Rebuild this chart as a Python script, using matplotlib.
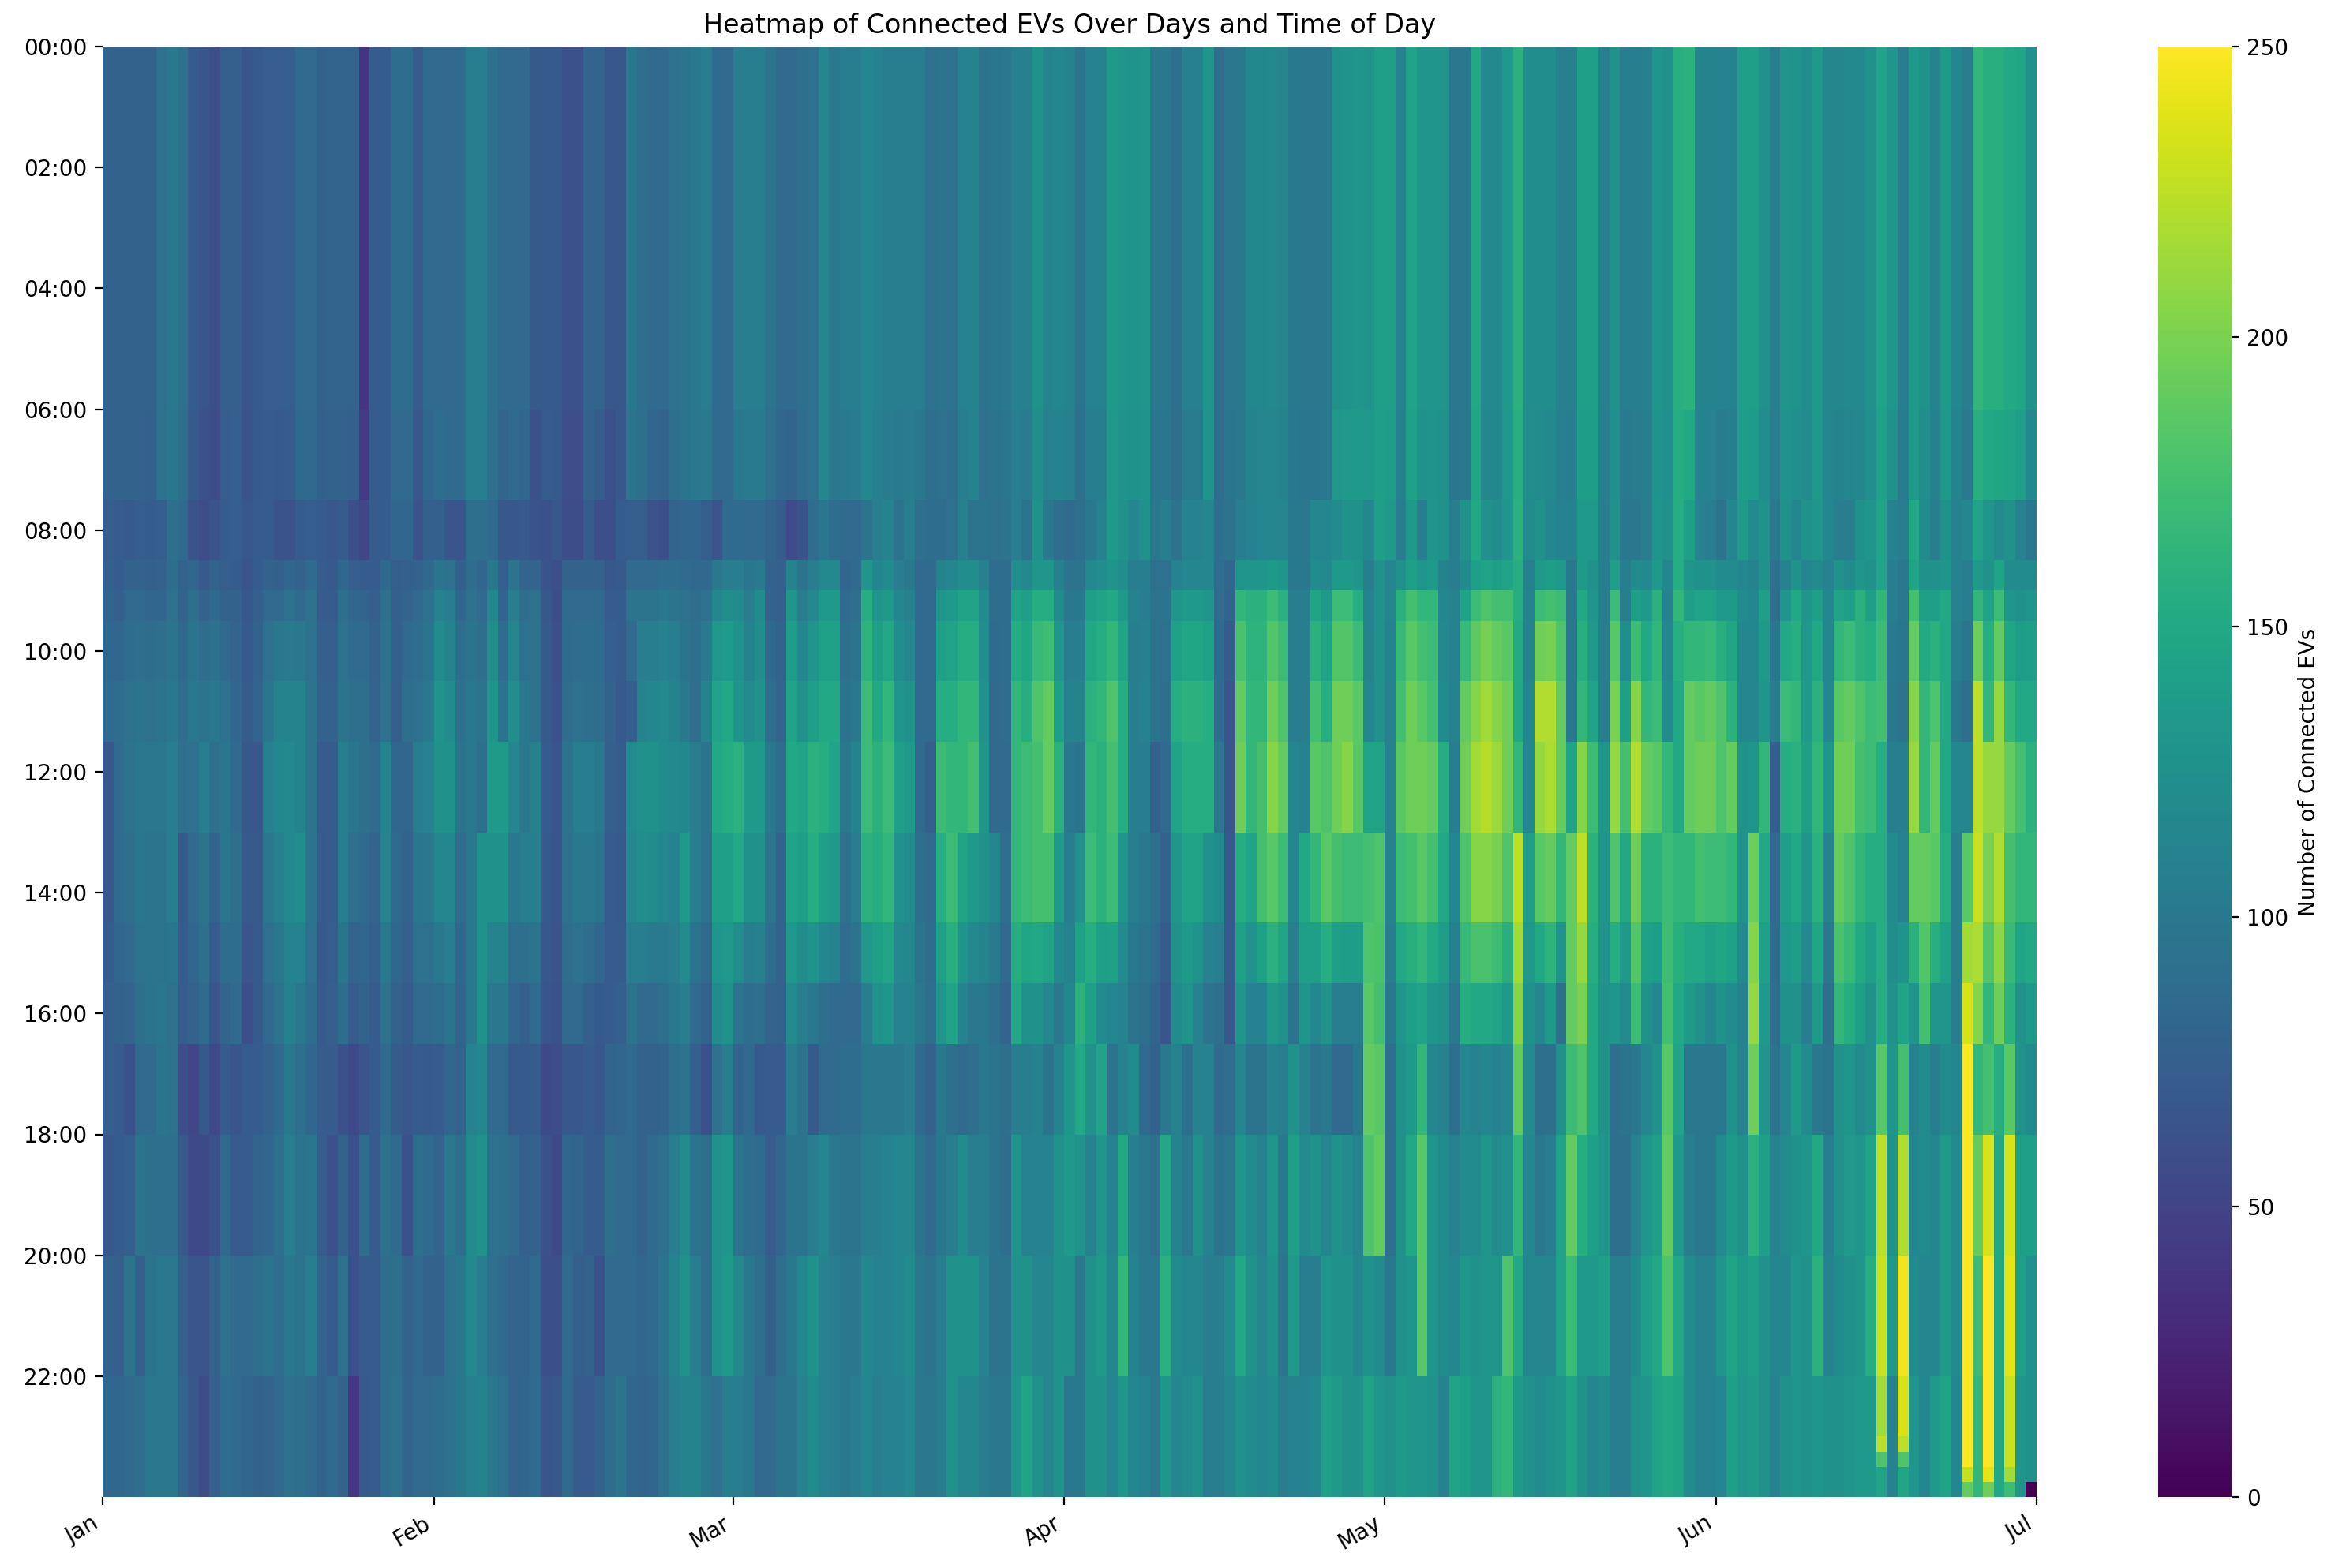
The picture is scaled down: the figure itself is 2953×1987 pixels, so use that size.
import numpy as np
import matplotlib
matplotlib.use("Agg")
import matplotlib.pyplot as plt

# Connected EVs per day (Jan 1 - Jun 30), one list per block of the day
ev_0000_0600 = [
    78,78,78,78,78,92,100,92,72,65,
    60,75,75,65,70,73,73,75,85,85,
    78,80,80,78,38,72,72,88,88,72,
    85,85,85,85,105,105,92,85,85,85,
    70,70,70,62,62,80,80,68,68,100,
    90,85,85,92,95,100,105,85,85,105,
    105,105,95,85,85,90,92,115,100,105,
    105,115,110,105,105,105,105,92,95,92,
    110,112,95,98,100,108,108,125,112,115,
    112,95,110,110,135,130,128,130,100,100,
    90,108,108,130,90,100,100,115,117,118,
    116,100,100,100,100,125,128,130,128,140,
    140,110,145,130,130,130,100,100,150,118,
    118,135,160,122,122,122,108,108,140,140,
    108,125,105,106,108,130,125,158,160,112,
    112,110,110,140,140,125,105,130,128,122,
    135,116,116,118,118,125,145,130,105,135,
    125,110,135,115,105,165,158,158,150,148,125]
ev_0600_0730 = [
    78,78,78,78,76,92,98,90,70,62,
    58,73,75,64,70,72,70,72,84,84,
    76,78,78,76,42,72,72,85,85,68,
    82,88,85,85,105,105,90,80,85,82,
    62,72,70,60,60,78,72,62,68,95,
    90,82,80,90,95,100,102,85,85,100,
    102,102,90,82,80,88,92,115,100,102,
    104,115,108,104,102,104,100,90,92,90,
    106,110,92,95,98,105,104,122,108,112,
    108,92,106,106,132,128,126,128,98,98,
    90,104,104,128,90,98,100,112,114,114,
    112,100,98,98,100,132,135,135,132,140,
    138,108,142,126,128,126,98,100,148,116,
    116,132,158,122,120,118,108,106,138,138,
    106,124,102,104,106,128,124,155,150,110,
    110,104,106,138,136,122,104,128,124,120,
    132,114,112,114,116,124,142,125,104,135,
    122,108,132,112,102,158,150,148,145,140,118]
ev_0730_0830 = [
    74,72,70,74,72,74,90,85,64,58,
    64,72,74,68,72,72,64,64,72,74,
    72,68,72,60,52,72,72,82,82,64,
    76,76,66,66,90,90,85,68,68,70,
    64,62,68,58,58,72,60,60,72,74,
    74,64,60,80,82,82,74,66,85,85,
    85,85,80,72,56,64,88,98,88,85,
    85,95,105,110,95,105,90,88,88,92,
    108,95,95,92,95,105,95,125,100,90,
    85,90,100,110,135,125,115,125,100,105,
    95,110,110,115,90,95,105,110,115,115,
    115,100,100,115,115,120,125,125,115,140,
    135,105,135,105,130,125,105,125,150,125,
    120,130,160,120,125,115,110,110,135,135,
    105,125,100,100,105,130,125,155,140,110,
    105,95,115,135,120,125,100,125,115,125,
    130,115,105,105,125,130,145,110,105,150,
    120,105,125,110,115,145,130,120,125,110,100]
ev_0830_0900 = [
    76,72,78,78,76,78,88,78,82,70,
    78,74,72,66,72,78,76,82,78,85,
    72,70,82,74,72,72,84,74,76,78,
    84,95,92,76,88,82,100,76,95,80,
    80,64,60,78,78,78,78,68,70,85,
    85,85,88,88,86,84,84,100,105,105,
    98,102,78,75,112,95,105,118,118,82,
    85,130,115,120,105,100,85,85,112,115,
    122,122,108,88,88,122,118,130,130,108,
    95,95,118,122,128,122,105,105,92,92,
    110,115,115,115,88,82,130,130,130,135,
    130,100,100,120,118,135,135,130,105,125,
    115,125,140,130,135,112,105,120,140,145,
    140,145,155,108,135,138,135,100,135,125,
    105,140,105,120,118,135,115,155,130,125,
    125,120,120,115,112,125,92,112,125,115,
    120,110,125,120,130,125,145,105,100,145,
    125,125,130,110,105,135,125,145,120,120,120]
ev_0900_0930 = [
    80,75,85,85,82,82,92,80,90,78,
    85,78,78,68,75,85,85,92,85,92,
    72,72,90,82,80,75,90,75,80,85,
    92,110,105,82,92,85,115,80,105,88,
    92,68,58,85,85,85,85,72,72,95,
    95,95,100,95,92,88,92,115,122,120,
    105,120,78,75,130,105,118,135,135,85,
    90,155,130,135,115,108,85,85,130,135,
    145,145,120,88,88,145,140,155,155,120,
    100,100,140,145,150,135,110,105,95,95,
    130,135,135,130,88,80,165,160,160,170,
    160,105,105,145,135,170,170,155,110,125,
    115,160,175,165,165,115,110,145,170,180,
    175,175,155,110,170,175,170,100,150,130,
    105,170,105,140,135,160,110,165,140,145,
    145,135,135,120,115,140,90,130,150,130,
    140,115,145,140,160,140,165,105,100,175,
    140,140,150,110,105,165,145,170,130,125,130]
ev_0930_1030 = [
    82,82,88,90,88,90,96,84,95,88,
    92,85,80,70,78,92,100,102,100,94,
    75,75,92,86,85,78,92,75,85,88,
    96,120,112,88,96,90,122,88,114,94,
    92,70,60,86,88,88,86,75,72,85,
    105,105,110,105,96,90,102,132,136,125,
    112,122,84,78,138,115,130,142,142,90,
    95,162,140,150,122,115,85,85,142,145,
    155,155,122,86,88,155,148,168,172,130,
    105,106,150,155,165,145,105,108,95,92,
    142,148,148,142,86,72,178,162,162,182,
    170,105,105,160,145,182,182,170,112,125,
    112,168,185,175,170,118,110,168,188,198,
    190,185,152,112,195,198,180,100,158,135,
    105,185,122,172,150,165,115,158,165,165,
    168,158,148,115,115,135,98,150,158,132,
    150,115,165,170,160,155,170,102,98,190,
    152,160,150,105,98,195,155,190,148,138,140]
ev_1030_1130 = [
    85,88,92,95,92,95,100,88,100,95,
    100,92,82,72,80,98,112,112,112,95,
    78,78,95,90,90,80,92,75,90,92,
    100,128,120,92,100,95,130,95,122,100,
    92,70,62,88,92,90,88,78,70,75,
    112,115,118,112,100,90,112,145,150,130,
    120,125,88,80,145,125,140,150,150,95,
    100,170,150,165,130,125,85,85,155,155,
    165,165,125,85,88,165,155,180,190,140,
    110,112,160,165,180,155,105,110,95,90,
    155,160,160,155,85,65,190,165,165,195,
    180,105,105,175,155,195,195,185,115,125,
    110,175,195,185,175,120,110,190,205,215,
    205,195,150,115,220,220,190,100,165,145,
    105,200,140,205,165,170,120,150,190,185,
    190,180,160,115,115,130,105,170,165,135,
    160,115,185,190,180,170,175,100,95,205,
    165,180,150,100,90,225,165,210,165,150,150]
ev_1130_1300 = [
    68,85,95,100,100,100,105,90,92,105,
    92,98,85,68,68,108,115,118,112,95,
    72,72,105,98,90,85,112,82,82,105,
    110,125,125,95,100,90,135,135,115,100,
    108,72,65,95,105,105,100,75,72,120,
    125,125,120,118,115,105,95,150,155,160,
    135,135,100,88,150,145,160,155,145,100,
    110,170,160,170,140,135,85,75,170,165,
    165,175,130,85,85,165,170,175,190,160,
    100,95,165,160,175,155,105,105,78,85,
    145,155,155,155,100,65,195,165,175,205,
    190,115,110,185,180,195,205,185,145,145,
    110,185,195,195,190,155,105,195,215,222,
    212,195,165,115,210,218,190,145,205,170,
    130,210,175,220,190,185,165,150,190,195,
    195,180,190,125,130,165,75,155,160,140,
    165,130,195,195,175,170,155,105,105,210,
    165,190,150,115,115,225,210,210,190,175,160]
ev_1300_1430 = [
    68,85,90,98,95,95,105,70,85,95,
    80,98,90,70,70,100,108,118,122,95,
    70,72,105,90,85,80,110,85,78,98,
    100,115,115,85,100,125,125,125,100,105,
    105,70,65,92,100,100,95,72,70,115,
    122,120,115,110,135,105,92,140,140,150,
    125,125,95,78,145,140,155,140,135,92,
    105,160,155,165,125,120,90,85,155,170,
    145,135,125,115,90,165,170,175,175,135,
    105,125,170,160,170,130,105,100,90,78,
    130,145,145,125,120,70,155,145,175,185,
    170,115,150,165,185,175,170,170,175,180,
    110,170,175,185,175,150,115,180,205,205,
    200,180,225,140,185,190,165,190,225,160,
    130,180,150,195,160,160,170,165,165,175,
    170,170,165,125,195,150,85,140,150,130,
    160,110,190,180,165,155,155,120,110,190,
    190,185,155,105,185,230,200,220,175,165,165]
ev_1430_1530 = [
    72,82,85,94,95,96,98,72,82,90,
    72,88,88,65,70,92,100,112,110,92,
    70,74,96,80,82,76,100,82,75,92,
    92,100,105,82,100,125,112,112,90,90,
    95,68,64,88,92,88,82,72,72,105,
    105,102,102,105,120,95,85,130,132,122,
    105,108,88,78,132,122,128,115,110,88,
    95,132,140,148,118,115,95,88,142,158,
    128,118,112,102,85,158,148,150,145,118,
    110,142,155,140,142,120,100,95,85,72,
    125,135,128,110,105,70,142,128,142,160,
    148,105,140,140,155,140,138,138,180,178,
    105,150,158,165,152,138,108,168,178,178,
    172,158,215,132,150,162,128,190,210,155,
    128,155,135,182,142,138,172,158,150,150,
    142,148,142,118,205,142,88,132,138,118,
    148,100,178,168,152,140,155,122,128,160,
    182,158,142,105,215,218,182,208,168,145,150]
ev_1530_1630 = [
    75,78,80,90,95,98,92,72,78,85,
    65,80,85,60,70,85,95,108,100,88,
    70,75,88,72,78,72,92,78,72,85,
    85,88,95,80,100,125,100,100,82,75,
    85,65,62,85,85,75,70,72,75,95,
    85,85,90,100,105,85,78,120,125,95,
    88,90,80,78,120,105,100,90,85,85,
    85,105,125,130,110,110,100,90,130,145,
    110,100,100,90,80,150,125,125,115,100,
    115,160,140,120,115,110,95,90,80,65,
    120,125,110,95,90,68,130,110,110,135,
    125,95,130,115,125,105,105,105,185,175,
    100,130,140,145,130,125,100,155,150,150,
    145,135,205,125,115,135,90,190,200,150,
    125,130,120,170,125,115,175,150,135,125,
    115,125,120,110,210,135,90,125,125,105,
    135,90,165,155,140,125,155,125,145,130,
    175,130,130,105,235,205,165,195,160,125,135]
ev_1630_1800 = [
    75,72,62,85,85,95,92,60,52,68,
    55,72,65,72,72,78,85,100,90,82,
    72,72,62,55,65,72,85,72,68,72,
    70,72,82,78,110,115,85,85,70,70,
    72,55,58,68,68,72,68,80,82,85,
    78,78,80,90,95,75,62,92,105,80,
    85,70,72,72,105,95,70,85,85,88,
    88,100,100,100,100,105,85,78,100,90,
    85,90,100,95,90,105,105,110,95,110,
    130,150,125,145,95,110,120,85,78,100,
    110,90,110,110,85,90,115,95,95,110,
    105,125,110,95,100,85,85,100,190,185,
    90,125,135,165,115,110,90,115,110,115,
    110,115,190,120,90,90,125,170,180,150,
    125,90,95,100,115,125,185,145,100,100,
    100,100,125,110,195,130,95,115,135,120,
    100,95,125,130,120,125,185,130,175,110,
    120,105,120,115,250,165,175,155,185,125,120]
ev_1800_2000 = [
    68,72,75,95,90,90,90,70,55,55,
    62,85,72,72,80,82,90,105,95,98,
    72,62,78,62,88,72,92,85,62,90,
    85,80,100,90,120,125,92,90,85,75,
    78,62,55,82,80,72,72,90,85,85,
    78,85,90,105,120,95,90,125,130,95,
    88,85,72,82,95,95,105,115,100,95,
    95,105,105,110,115,115,95,85,100,105,
    120,105,105,95,88,130,110,110,110,125,
    135,125,110,130,110,150,105,100,90,150,
    110,100,125,110,95,100,130,120,110,130,
    100,140,120,125,115,125,120,110,180,190,
    90,125,150,185,130,120,110,120,120,130,
    120,125,165,115,100,105,145,190,155,140,
    130,90,90,110,130,140,190,135,105,100,
    100,120,135,125,160,140,110,120,125,130,
    150,105,125,135,130,145,225,125,220,115,
    120,115,135,120,250,190,235,150,235,140,140]
ev_2000_2200 = [
    78,75,95,75,95,100,100,75,65,65,
    78,92,85,85,90,95,88,100,95,105,
    80,72,92,62,72,72,88,90,78,85,
    78,78,92,100,118,105,90,85,80,80,
    85,60,60,85,75,78,62,85,85,85,
    82,85,95,112,125,105,90,125,135,118,
    100,90,78,90,100,115,125,110,105,100,
    100,115,110,110,115,120,100,95,105,125,
    125,125,110,95,95,125,125,115,115,125,
    125,100,125,135,115,165,110,100,100,160,
    120,115,115,105,105,120,150,125,115,125,
    95,135,105,105,130,125,125,115,125,120,
    100,125,130,185,130,120,115,130,125,130,
    130,180,150,115,115,115,145,170,135,135,
    140,105,105,120,140,150,180,150,120,110,
    110,130,145,135,140,125,115,115,130,125,
    160,110,120,125,130,155,230,135,245,120,
    115,115,135,120,250,170,250,150,240,140,125]
ev_2200_2400 = [
    82,82,85,90,100,100,100,80,68,58,
    75,88,85,82,78,80,85,92,90,85,
    80,85,78,40,70,72,88,92,80,85,
    85,88,92,100,108,112,100,92,80,82,
    85,65,68,85,72,72,78,88,95,82,
    80,82,92,105,112,112,100,92,105,105,
    100,85,85,95,95,110,120,110,105,100,
    105,115,105,110,110,115,100,100,105,125,
    115,115,105,100,100,130,145,125,115,125,
    100,100,125,125,115,130,115,110,100,130,
    115,120,125,105,105,115,125,120,115,120,
    105,110,110,115,140,135,125,125,145,130,
    125,135,130,130,125,110,145,140,130,130,
    160,165,135,125,120,125,130,145,125,115,
    120,105,105,125,130,145,150,145,120,110,
    110,115,140,130,135,125,110,125,130,125,
    130,125,125,130,135,135,215,110,235,130,
    115,135,145,115,250,165,250,150,230,130,125]

# first quarter-hour row of each block above, plus the end of the day
block_rows = [0, 24, 30, 34, 36, 38, 42, 46, 52, 58, 62, 66, 72, 80, 88, 96]

# the last quarter hours of the busiest days
last_days = [166, 166, 166, 166, 168, 168, 168, 168, 174, 174, 176, 176, 178, 178, 180]
last_rows = [92, 93, 94, 95, 92, 93, 94, 95, 94, 95, 94, 95, 94, 95, 95]
last_values = [225, 180, 145, 145, 225, 180, 148, 148, 228, 190, 240, 195, 215, 170, 0]

month_labels = ["Jan", "Feb", "Mar", "Apr", "May", "Jun", "Jul"]
month_starts = [0, 31, 59, 90, 120, 151, 181]

blocks = [ev_0000_0600, ev_0600_0730, ev_0730_0830, ev_0830_0900, ev_0900_0930,
          ev_0930_1030, ev_1030_1130, ev_1130_1300, ev_1300_1430, ev_1430_1530,
          ev_1530_1630, ev_1630_1800, ev_1800_2000, ev_2000_2200, ev_2200_2400]

# stretch every block over its rows to get the rows x days grid
grid = np.zeros((96, 181))
for i in range(len(blocks)):
    grid[block_rows[i]:block_rows[i + 1], :] = blocks[i]
for day, row, value in zip(last_days, last_rows, last_values):
    grid[row, day] = value

W, H = 2953, 1987
fig = plt.figure(figsize=(W / 200, H / 200), dpi=200)
ax = fig.add_axes([130 / W, 1 - 1897 / H, 2450 / W, 1838 / H])
cax = fig.add_axes([2734 / W, 1 - 1897 / H, 93 / W, 1838 / H])

mesh = ax.pcolormesh(np.arange(182), np.arange(97), grid, cmap="viridis", vmin=0, vmax=250)
ax.invert_yaxis()
for side in ax.spines:
    ax.spines[side].set_visible(False)

# hour labels every two hours
ax.set_yticks(np.arange(0, 96, 8))
ax.set_yticklabels(["%02d:00" % h for h in range(0, 24, 2)])

ax.set_xticks(month_starts)
ax.set_xticklabels(month_labels, rotation=30, ha="right")
ax.set_title("Heatmap of Connected EVs Over Days and Time of Day", fontsize=12, pad=6)

cbar = fig.colorbar(mesh, cax=cax)
cbar.outline.set_visible(False)
cbar.set_ticks([0, 50, 100, 150, 200, 250])
cbar.set_label("Number of Connected EVs")

fig.savefig("out.png", dpi=200)
